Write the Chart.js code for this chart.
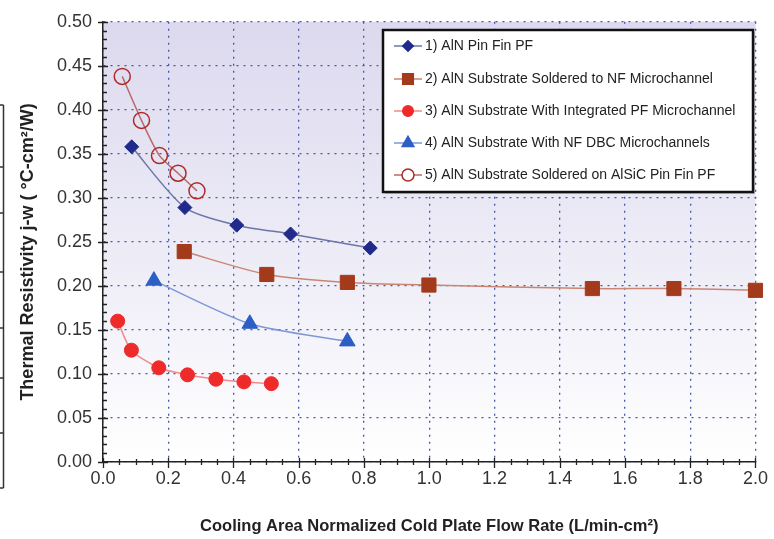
<!DOCTYPE html>
<html>
<head>
<meta charset="utf-8">
<script src="https://cdn.jsdelivr.net/npm/chart.js@4.4.1/dist/chart.umd.min.js"></script>
<style>
  html, body { margin: 0; padding: 0; background: #fff; }
  #wrap { width: 774px; height: 539px; position: relative; }
</style>
</head>
<body>
<div id="wrap"><canvas id="plot"></canvas></div>
<script>
// flow rate (L/min-cm2) and thermal resistivity (C-cm2/W) per cooler
const pinFinX = [0.088, 0.251, 0.41, 0.575, 0.819];
const pinFinY = [0.358, 0.289, 0.269, 0.259, 0.243];
const nfSolderX = [0.249, 0.502, 0.749, 0.999, 1.5, 1.75, 2.0];
const nfSolderY = [0.239, 0.213, 0.204, 0.201, 0.197, 0.197, 0.195];
const integratedX = [0.045, 0.087, 0.171, 0.259, 0.346, 0.432, 0.516];
const integratedY = [0.160, 0.127, 0.107, 0.099, 0.094, 0.091, 0.089];
const dbcX = [0.156, 0.45, 0.749];
const dbcY = [0.206, 0.157, 0.137];
const alsicX = [0.059, 0.118, 0.173, 0.23, 0.288];
const alsicY = [0.438, 0.388, 0.348, 0.328, 0.308];

const seriesLabels = [
    '1) AlN Pin Fin PF',
    '2) AlN Substrate Soldered to NF Microchannel',
    '3) AlN Substrate With Integrated PF Microchannel',
    '4) AlN Substrate With NF DBC Microchannels',
    '5) AlN Substrate Soldered on AlSiC Pin Fin PF'
];

const yTitle = 'Thermal Resistivity j-w ( °C-cm²/W)';
const xTitle = 'Cooling Area Normalized Cold Plate Flow Rate (L/min-cm²)';

function pts(xs, ys) {
    return xs.map(function (v, i) { return { x: v, y: ys[i] }; });
}

Chart.defaults.font.family = '"Liberation Sans", Arial, sans-serif';

// lavender wash behind the plot
const plotBg = {
    id: 'plotBg',
    beforeDraw(chart) {
        let ctx = chart.ctx;
        let a = chart.chartArea;
        let g = ctx.createLinearGradient(0, a.top, 0, a.bottom);
        g.addColorStop(0, '#dcd9ee');
        g.addColorStop(0.5, '#ecebf6');
        g.addColorStop(1, '#ffffff');
        ctx.save();
        ctx.fillStyle = g;
        ctx.fillRect(a.left, a.top, a.right - a.left, a.bottom - a.top);

        // edge of the neighbouring panel
        ctx.strokeStyle = '#333';
        ctx.lineWidth = 1.5;
        ctx.beginPath();
        ctx.moveTo(3.5, 105);
        ctx.lineTo(3.5, 488);
        [105, 167, 213, 272, 328, 378, 433, 488].forEach(function (y) {
            ctx.moveTo(0, y);
            ctx.lineTo(3.5, y);
        });
        ctx.stroke();

        // y axis title, rotated
        ctx.translate(28, 252);
        ctx.rotate(-Math.PI / 2);
        ctx.font = 'bold 18px "Liberation Sans", Arial, sans-serif';
        ctx.fillStyle = '#222';
        ctx.textAlign = 'center';
        ctx.textBaseline = 'middle';
        ctx.fillText(yTitle, 0, 0);
        ctx.restore();
    }
};

// major and minor tick marks on both axes
const axisTicks = {
    id: 'axisTicks',
    afterDraw(chart) {
        let ctx = chart.ctx;
        let xs = chart.scales.x;
        let ys = chart.scales.y;
        let y0 = ys.getPixelForValue(0);
        let x0 = xs.getPixelForValue(0);
        ctx.save();
        ctx.strokeStyle = '#222';
        ctx.lineWidth = 1.3;
        ctx.beginPath();
        for (let i = 0; i <= 40; i++) {
            let px = Math.round(xs.getPixelForValue(i * 0.05)) + 0.5;
            if (i % 4 == 0) {
                ctx.moveTo(px, y0 - 4);
                ctx.lineTo(px, y0 + 6);
            }
            else {
                ctx.moveTo(px, y0 - 3);
                ctx.lineTo(px, y0 + 3);
            }
        }
        for (let i = 0; i <= 50; i++) {
            let py = Math.round(ys.getPixelForValue(i * 0.01)) + 0.5;
            if (i % 5 == 0) {
                ctx.moveTo(x0 - 5, py);
                ctx.lineTo(x0 + 5, py);
            }
            else {
                ctx.moveTo(x0, py);
                ctx.lineTo(x0 + 4, py);
            }
        }
        ctx.stroke();
        ctx.restore();
    }
};

// boxed legend with line + marker samples
const boxLegend = {
    id: 'boxLegend',
    afterDraw(chart) {
        let ctx = chart.ctx;
        let left = 383, top = 30, right = 753, bottom = 192;
        ctx.save();
        ctx.fillStyle = 'rgba(120,120,120,0.35)';
        ctx.fillRect(left + 2, top + 2, right - left, bottom - top);
        ctx.fillStyle = '#ffffff';
        ctx.fillRect(left, top, right - left, bottom - top);
        ctx.strokeStyle = '#111';
        ctx.lineWidth = 2.5;
        ctx.strokeRect(left, top, right - left, bottom - top);

        let rows = [46, 79, 111, 143, 175];
        ctx.font = '14px "Liberation Sans", Arial, sans-serif';
        ctx.textBaseline = 'middle';
        chart.data.datasets.forEach(function (ds, i) {
            let y = rows[i];
            ctx.strokeStyle = ds.borderColor;
            ctx.lineWidth = 1.5;
            ctx.beginPath();
            ctx.moveTo(394, y);
            ctx.lineTo(422, y);
            ctx.stroke();
            ctx.fillStyle = ds.pointBackgroundColor == 'rgba(255,255,255,0)' ? '#fff' : ds.pointBackgroundColor;
            ctx.strokeStyle = ds.pointBorderColor;
            Chart.helpers.drawPoint(ctx, {
                pointStyle: ds.pointStyle,
                radius: ds.pointRadius * 0.75,
                borderWidth: ds.pointBorderWidth,
                rotation: 0
            }, 408, y);
            ctx.fillStyle = '#222';
            ctx.fillText(ds.label, 425, y);
        });
        ctx.restore();
    }
};

function series(label, data, line, mark, style, radius, fill) {
    return {
        label: label,
        data: data,
        showLine: true,
        borderColor: line,
        borderWidth: 1.5,
        tension: 0.25,
        pointStyle: style,
        pointRadius: radius,
        pointHoverRadius: radius,
        pointBackgroundColor: fill || mark,
        pointBorderColor: mark,
        pointBorderWidth: fill ? 1.5 : 1,
        clip: false
    };
}

let ctx = document.getElementById('plot').getContext('2d');
let resistChart = new Chart(ctx, {
    type: 'scatter',
    data: {
        datasets: [
            series(seriesLabels[0], pts(pinFinX, pinFinY), '#6a76a8', '#1f2a8a', 'rectRot', 7),
            series(seriesLabels[1], pts(nfSolderX, nfSolderY), '#c98672', '#a33a1c', 'rect', 10),
            series(seriesLabels[2], pts(integratedX, integratedY), '#f08c8c', '#ee2a2a', 'circle', 7),
            series(seriesLabels[3], pts(dbcX, dbcY), '#7d96d6', '#2c5ec6', 'triangle', 9),
            series(seriesLabels[4], pts(alsicX, alsicY), '#b86a6a', '#b02828', 'circle', 8, 'rgba(255,255,255,0)')
        ]
    },
    options: {
        responsive: true,
        maintainAspectRatio: false,
        animation: false,
        devicePixelRatio: 1,
        layout: { padding: { top: 20, right: 13, left: 0, bottom: 0 } },
        plugins: {
            legend: { display: false },
            tooltip: { enabled: false }
        },
        scales: {
            x: {
                type: 'linear',
                min: 0,
                max: 2,
                ticks: {
                    stepSize: 0.2,
                    padding: 6,
                    color: '#333',
                    font: { size: 18 },
                    callback: function (v) { return v.toFixed(1); }
                },
                grid: { color: '#4858a8', lineWidth: 1.3, drawTicks: false },
                border: { display: true, color: '#222', width: 1.5, dash: [2, 5] },
                title: {
                    display: true,
                    text: xTitle,
                    color: '#222',
                    font: { size: 16.5, weight: 'bold' },
                    padding: { top: 3, bottom: 3 }
                },
                afterFit: function (s) { s.height = 77; }
            },
            y: {
                min: 0,
                max: 0.5,
                ticks: {
                    stepSize: 0.05,
                    padding: 11,
                    color: '#333',
                    font: { size: 18 },
                    callback: function (v) { return v.toFixed(2); }
                },
                grid: { color: '#4858a8', lineWidth: 1.3, drawTicks: false },
                border: { display: true, color: '#222', width: 1.5, dash: [2, 5] },
                afterFit: function (s) { s.width = 103; }
            }
        }
    },
    plugins: [plotBg, axisTicks, boxLegend]
});
</script>
</body>
</html>
